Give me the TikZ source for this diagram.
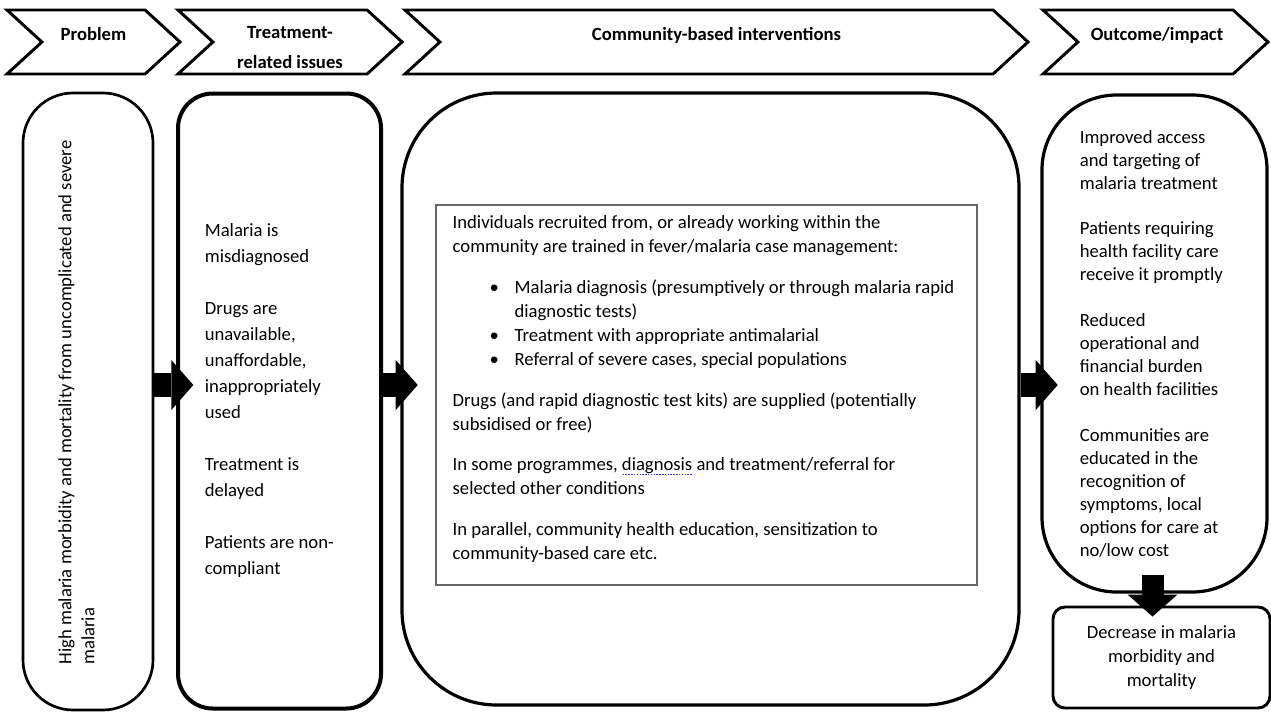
\documentclass[tikz,border=0pt]{standalone}
\usepackage{fontspec}
\setmainfont{Carlito}
\usetikzlibrary{arrows.meta,shapes.symbols}

% dotted spell-check mark under a word
\newcommand{\spellmark}[1]{\setbox0\hbox{#1}\rlap{\raisebox{-3pt}{\textcolor{blue!80!white}{\hbox to\wd0{\xleaders\hbox{\kern0.5pt\rule{1.1pt}{0.8pt}\kern0.5pt}\hfill}}}}#1}

\begin{document}
\begin{tikzpicture}[x=0.75pt, y=-0.75pt,
    every node/.style={font=\fontsize{14}{18}\selectfont},
    chev/.style={draw, line width=2.2pt, signal, signal to=east, signal from=west, signal pointer angle=85, minimum height=48pt, inner sep=0pt},
    head/.style={font=\fontsize{14}{22.5}\selectfont\bfseries, align=flush center, inner sep=0pt},
    pill/.style={draw, line width=2.2pt, rectangle},
    body/.style={align=flush left},
    blockarrow/.style={line width=18pt, -{Triangle[length=16.5pt, width=37.5pt, line width=0pt]}, shorten >=-13pt}]

    \useasboundingbox (0,0) rectangle (1271,711);

    % Header chevrons
    \node[chev, minimum width=129.75pt] (chProb) at (93.5,42) {};
    \node[chev, minimum width=168pt] (chTreat) at (290,42) {};
    \node[chev, minimum width=467.25pt] (chComm) at (716.5,42) {};
    \node[chev, minimum width=168.75pt] (chOut) at (1155.5,42) {};

    \node[head, anchor=base] (hProb) at (93.5,40) {Problem};
    \node[head, anchor=north] (hTreat) at (290,26) {Treatment-\\related issues};
    \node[head, anchor=base] (hComm) at (716.5,40) {Community-based interventions};
    \node[head, anchor=base] (hOut) at (1157,40) {Outcome/impact};

    % Columns
    \node[pill, line width=2pt, rounded corners=37.5pt, minimum width=97.5pt, minimum height=462.75pt] (prob) at (88,401.5) {};
    \node[body, rotate=90, font=\fontsize{14}{17.25}\selectfont] (probTxt) at (76.5,402.5) {High malaria morbidity and mortality from uncomplicated and severe\\malaria};

    \node[pill, line width=3pt, rounded corners=26pt, minimum width=152.25pt, minimum height=461.25pt, text width=112pt, body, font=\fontsize{14}{19.5}\selectfont] (treat) at (279.5,401) {Malaria is\\misdiagnosed\\[19.5pt]
        Drugs are\\unavailable,\\unaffordable,\\inappropriately\\used\\[19.5pt]
        Treatment is\\delayed\\[19.5pt]
        Patients are non-\\compliant};

    \node[pill, line width=2.4pt, rounded corners=71pt, minimum width=462.75pt, minimum height=459pt] (comm) at (710.5,399) {};
    \node[draw=black!60, line width=0.9pt, minimum width=405.75pt, minimum height=285pt] (commBox) at (706.5,395) {};
    \node[body, text width=395pt, inner sep=0pt, anchor=north west] (commTxt) at ([xshift=12.75pt, yshift=-8.5pt]commBox.north west) {Individuals recruited from, or already working within the\\
        community are trained in fever/malaria case management:\\[12.5pt]
        \hspace*{27.75pt}\makebox[18.75pt][l]{\textbullet}Malaria diagnosis (presumptively or through malaria rapid\\
        \hspace*{46.5pt}diagnostic tests)\\
        \hspace*{27.75pt}\makebox[18.75pt][l]{\textbullet}Treatment with appropriate antimalarial\\
        \hspace*{27.75pt}\makebox[18.75pt][l]{\textbullet}Referral of severe cases, special populations\\[12.5pt]
        Drugs (and rapid diagnostic test kits) are supplied (potentially\\
        subsidised or free)\\[12.5pt]
        In some programmes, \spellmark{diagnosis} and treatment/referral for\\
        selected other conditions\\[12.5pt]
        In parallel, community health education, sensitization to\\
        community-based care etc.};

    \node[pill, line width=2.4pt, rounded corners=56pt, minimum width=168.75pt, minimum height=372.75pt, text width=112pt, body, font=\fontsize{14}{17.25}\selectfont] (outc) at (1154.5,343.5) {Improved access\\and targeting of\\malaria treatment\\[17pt]
        Patients requiring\\health facility care\\receive it promptly\\[17pt]
        Reduced\\operational and\\financial burden\\on health facilities\\[17pt]
        Communities are\\educated in the\\recognition of\\symptoms, local\\options for care at\\no/low cost};

    \node[pill, rounded corners=9pt, minimum width=162.75pt, minimum height=75.75pt, align=flush center] (decr) at (1161.5,657.5) {Decrease in malaria\\morbidity and\\mortality};

    % Block arrows
    \coordinate (arrowRow) at (0,385);
    \coordinate (downCol) at (1152.5,0);
    \draw[blockarrow] (prob.east |- arrowRow) -- (treat.west |- arrowRow);
    \draw[blockarrow] (treat.east |- arrowRow) -- (comm.west |- arrowRow);
    \draw[blockarrow] (comm.east |- arrowRow) -- (outc.west |- arrowRow);
    \draw[blockarrow, line width=16.5pt, shorten <=-14.25pt, shorten >=-8.25pt] (outc.south -| downCol) -- (decr.north -| downCol);
\end{tikzpicture}
\end{document}
